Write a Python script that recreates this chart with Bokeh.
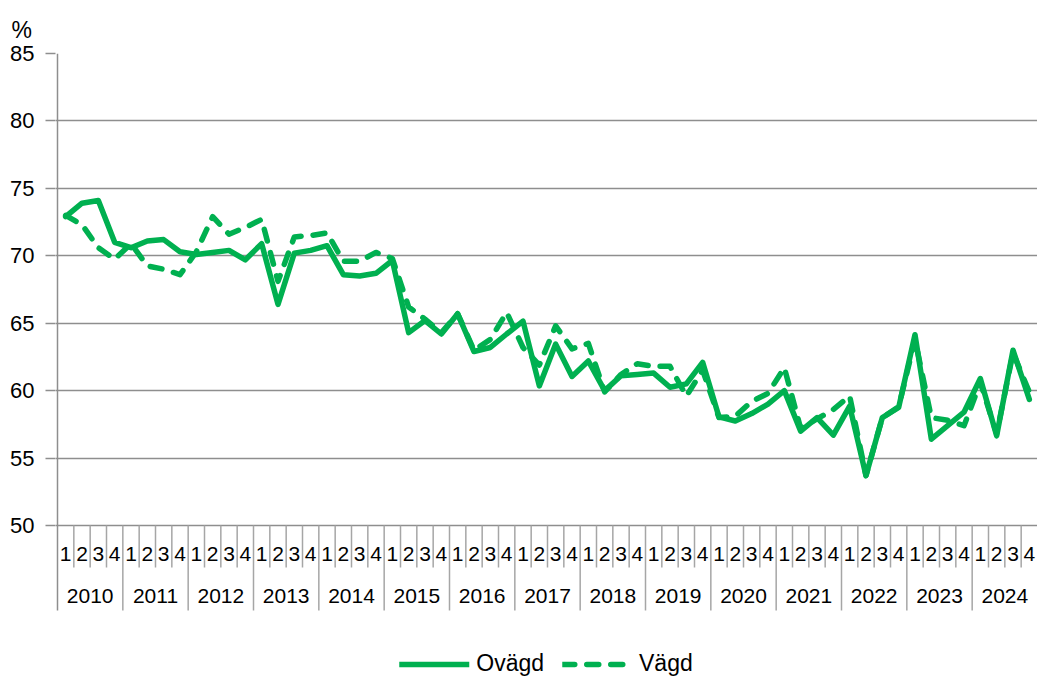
from bokeh.plotting import figure
from bokeh.models import Range1d, FixedTicker, Legend, LegendItem
from bokeh.embed import file_html
from bokeh.resources import INLINE
from bokeh.core.properties import value

# ---- data ----
years = ["2010", "2011", "2012", "2013", "2014", "2015", "2016", "2017",
         "2018", "2019", "2020", "2021", "2022", "2023", "2024"]
quarters = ["1", "2", "3", "4"]

ovagd = [72.9, 73.9, 74.1, 71.0,
         70.6, 71.1, 71.2, 70.3,
         70.1, 70.25, 70.4, 69.7,
         70.9, 66.4, 70.2, 70.4,
         70.75, 68.6, 68.5, 68.7,
         69.65, 64.3, 65.2, 64.2,
         65.7, 62.9, 63.2, 64.2,
         65.15, 60.35, 63.45, 61.05,
         62.2, 60.0, 61.1, 61.2,
         61.3, 60.25, 60.5, 62.1,
         58.05, 57.75, 58.3, 59.0,
         60.0, 57.0, 58.0, 56.7,
         58.85, 53.7, 58.0, 58.75,
         64.15, 56.4, 57.4, 58.4,
         60.9, 56.65, 63.0, 59.35]

vagd = [73.0, 72.3, 70.6, 69.75,
        70.9, 69.25, 69.0, 68.6,
        70.3, 72.9, 71.6, 72.1,
        72.7, 68.1, 71.4, 71.5,
        71.7, 69.6, 69.6, 70.25,
        69.8, 66.2, 65.3, 64.3,
        65.7, 63.0, 63.8, 65.8,
        63.2, 61.9, 64.8, 63.1,
        63.5, 59.9, 61.2, 62.0,
        61.8, 61.8, 59.6, 61.5,
        58.0, 58.1, 59.2, 59.8,
        61.7, 57.2, 57.9, 58.6,
        59.6, 53.7, 58.0, 58.8,
        63.8, 58.0, 57.8, 57.4,
        60.6, 56.8, 62.8, 59.9]

yticks = [50, 55, 60, 65, 70, 75, 80, 85]

# ---- layout constants ----
GREEN = "#00B050"
GRID = "#8e8e8e"
SEP = "#a6a6a6"
FONT = "Liberation Sans"

n = len(ovagd)
W, H = 1037, 677
LEFT, TOP = 57, 53                   # position of x=0 and y=85 on the page
CAT_PX = (W - LEFT) / n              # pixels per quarter
PAD_L = 2                            # small pad so the axis line is not clipped
Y_MIN, Y_MAX = 50, 85
PLOT_H_PX = 472                      # pixels between 50 and 85
ppu = PLOT_H_PX / (Y_MAX - Y_MIN)
FRAME_H = H - TOP
y_bottom = Y_MIN - (FRAME_H - PLOT_H_PX) / ppu
sep_bottom = Y_MIN - 85 / ppu        # bottom of year separator lines
short_bottom = Y_MIN - 42 / ppu      # bottom of quarter separator lines

x = [i + 0.5 for i in range(n)]

p = figure(frame_width=W - LEFT + PAD_L, frame_height=FRAME_H,
           x_range=Range1d(-PAD_L / CAT_PX, n), y_range=Range1d(y_bottom, Y_MAX),
           x_axis_type=None, output_backend="svg", toolbar_location=None,
           min_border_left=LEFT - PAD_L, min_border_right=0,
           min_border_top=TOP, min_border_bottom=0)
p.outline_line_color = None
p.background_fill_color = "white"
p.border_fill_color = "white"

# title "%"
p.title.text = "%"
p.title.align = "left"
p.title.offset = -44
p.title.standoff = 22
p.title.text_font = FONT
p.title.text_font_size = "23px"
p.title.text_font_style = "normal"
p.title.text_color = "black"

# y axis
t = FixedTicker(ticks=yticks)
p.yaxis.ticker = t
p.ygrid.ticker = t
p.ygrid.grid_line_color = GRID
p.ygrid.grid_line_width = 1.5
p.yaxis.axis_line_color = None
p.yaxis.major_tick_line_color = GRID
p.yaxis.major_tick_line_width = 1.5
p.yaxis.major_tick_out = 8 + PAD_L
p.yaxis.major_tick_in = 0
p.yaxis.minor_tick_line_color = None
p.yaxis.major_label_text_font = FONT
p.yaxis.major_label_text_font_size = "22px"
p.yaxis.major_label_text_color = "black"
p.yaxis.major_label_standoff = 11

# y axis line (continues down as the first year separator)
p.segment(x0=[0], y0=[sep_bottom], x1=[0], y1=[Y_MAX],
          line_color=GRID, line_width=1.5)

# category axis drawn with glyphs
q_bounds = [k for k in range(1, n) if k % 4 != 0]
y_bounds = [k for k in range(4, n, 4)]
p.segment(x0=q_bounds, y0=[Y_MIN] * len(q_bounds), x1=q_bounds,
          y1=[short_bottom] * len(q_bounds), line_color=SEP, line_width=1.5)
p.segment(x0=y_bounds, y0=[Y_MIN] * len(y_bounds), x1=y_bounds,
          y1=[sep_bottom] * len(y_bounds), line_color=SEP, line_width=1.5)

q_labels = [quarters[i % 4] for i in range(n)]
p.text(x=x, y=[Y_MIN - 28 / ppu] * n, text=q_labels,
       text_font=value(FONT), text_font_size="21px", text_color="black",
       text_align="center", text_baseline="middle")
year_x = [4 * j + 2 for j in range(len(years))]
p.text(x=year_x, y=[Y_MIN - 70.5 / ppu] * len(years), text=years,
       text_font=value(FONT), text_font_size="21px", text_color="black",
       text_align="center", text_baseline="middle")

# series
r1 = p.line(x, ovagd, line_color=GREEN, line_width=5.5,
            line_join="round", line_cap="round")
r2 = p.line(x, vagd, line_color=GREEN, line_width=5.5, line_dash="12 12",
            line_join="round", line_cap="round")

legend = Legend(items=[LegendItem(label="Ovägd", renderers=[r1]),
                       LegendItem(label="Vägd", renderers=[r2])],
                orientation="horizontal", location="bottom_center",
                glyph_width=70, glyph_height=24, label_standoff=7, spacing=18,
                padding=0, margin=0, border_line_color=None,
                background_fill_alpha=0,
                label_text_font=FONT, label_text_font_size="23px",
                label_text_color="black")
p.add_layout(legend, "center")

open("out.html", "w").write(file_html(p, INLINE))
